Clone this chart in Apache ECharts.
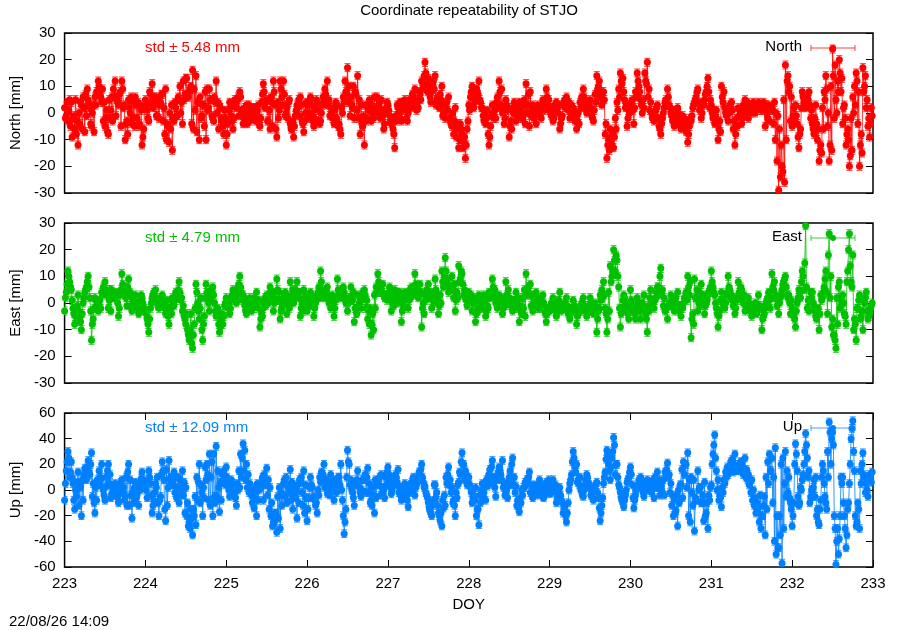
<!DOCTYPE html>
<html>
<head>
<meta charset="utf-8">
<script src="https://cdn.jsdelivr.net/npm/echarts@6/dist/echarts.min.js"></script>
<style>
html, body { margin: 0; padding: 0; background: #fff; }
#main { width: 900px; height: 630px; }
</style>
</head>
<body>
<div id="main"></div>
<script>
// epochs: A values at 223 + i/48, B values half a step later (15-min sampling overall)
var T0 = 223, STEP = 1 / 48;

// North residuals [mm], one row per day
var northA = [
  2,-1, -3,5, 4,-2, -6,-8, -12,-4, 3,6, -7,-1, 5,2, -5,3, 6,8, 12,7, 4,-3, -5,1, -8,-2, 6,9, 12,5, 3,8, 12,2, -10,-3, 5,0, -4,4, 6,-2, -5,3, -12,-6,
  5,1, -3,7, 11,3, 6,-1, -2,4, 7,2, 9,-4, -11,-6, -14,-3, 2,-1, 5,0, -4,5, 13,6, 8,10, 16,9, 14,4, -10,-2, 3,-5, -10,1, 9,5, -2,6, 12,4, 3,-2, -5,1,
  -12,-4, 4,-1, -6,5, 2,6, 8,1, -4,2, 3,-1, -3,1, 2,-2, 0,3, -5,4, 11,2, 5,-3, -6,4, 12,3, -9,-2, 12,6, 12,-1, 2,4, -4,-6, -9,-1, 3,5, 6,-3, -7,0,
  3,-2, 6,0, -5,2, 4,-3, -3,3, 5,7, 12,5, 2,-2, -4,4, 3,-4, -8,0, 4,8, 17,10, 6,2, -2,7, 14,5, 3,-5, -12,-3, 2,5, -3,2, 6,1, 0,4, 5,-1, -4,2,
  3,-1, -4,-6, -13,-3, 2,4, -3,1, 5,-2, 0,3, 4,6, 9,1, 2,7, 12,10, 19,11, 13,6, 8,12, 14,5, 3,7, 10,0, -2,4, 6,-3, -5,-8, 2,-6, -13,-4, -8,-11, -17,-6,
  3,6, 10,2, 5,8, 12,4, 2,-3, -4,1, -12,-5, 3,-2, -2,6, 12,3, 0,-4, 5,1, -9,-3, 2,4, -3,0, 4,-2, -2,5, 11,3, -5,-1, 3,0, -4,3, 2,-2, 5,1, 9,3,
  2,-1, -3,3, 4,0, -6,-2, 3,5, 6,1, -2,3, 2,-3, -6,0, 4,6, 9,2, 0,4, 5,-1, -3,7, 14,10, 6,3, 8,-8, -17,-10, -6,-12, -13,-2, 4,9, 15,11, 8,2, -5,1,
  2,5, -4,8, 15,10, 5,0, 2,12, 19,9, 4,-2, -3,1, 3,-5, -8,-2, 2,5, 9,3, 0,-3, -5,1, 2,-4, -6,-1, -2,-7, -11,-5, -3,2, 4,6, 9,1, -2,4, 5,8, 13,2,
  3,-2, -4,1, -10,-3, 10,4, 2,-1, -3,3, 4,-6, -12,-2, 2,1, -4,3, 5,0, -2,2, 3,4, 0,3, 4,2, 1,4, -5,0, 3,2, 2,-4, -10,-18, -29,-24, -20,5, 18,12, 8,-3,
  -5,2, 3,-4, -13,-6, 8,4, 2,6, 8,-2, -4,-8, 3,-10, -18,-12, 2,8, 14,-5, -18,10, 24,-2, 5,12, 20,8, -4,3, -12,-6, -20,-2, 6,10, 15,-4, -20,-8, 17,10, 2,-5, -9,2
];
var northB = [
  -2,4,1,-5,-9,-1,5,-3,0,4,-6,2,7,9,3,-4,0,-7,3,8,10,6,9,4,-2,-7,5,1,-3,6,-1,4,7,-5,9,3,-4,-8,2,6,-2,-5,3,4,-4,1,-9,2,
  3,-2,8,4,2,6,-1,5,3,7,-3,-8,-10,-5,0,3,-2,4,-1,6,10,4,12,7,13,6,9,-4,-6,1,-7,4,6,-1,3,8,9,2,5,-1,-3,4,0,-6,2,-3,-8,-2,
  -8,1,2,-3,-2,3,5,-1,6,0,-2,1,-4,3,0,-1,2,-3,1,-4,-2,7,8,4,-3,1,6,-5,8,-6,4,1,9,3,7,0,-2,5,-6,-3,-5,1,2,-1,3,-4,-3,4,
  0,4,3,-3,-2,5,1,-4,0,6,9,3,4,-1,0,2,1,-2,-5,-6,2,6,12,7,4,-1,3,10,8,1,-2,-8,-4,-1,3,-2,1,4,0,-2,2,6,3,-2,1,-6,0,4,
  1,-3,-2,-8,-1,3,0,-2,4,2,2,-3,5,2,7,3,5,4,8,5,9,14,15,8,10,4,11,9,3,6,2,5,-1,3,4,1,-2,-4,0,-3,-9,-4,-10,-6,-13,-9,-12,-3,
  1,8,6,4,9,7,5,2,-1,0,-2,-8,-9,-1,0,1,4,2,8,9,2,-2,3,2,-5,-6,0,2,-1,1,2,0,3,-4,0,7,8,1,-2,-1,1,0,-1,3,4,2,6,5,
  0,1,-2,1,2,3,-4,-1,4,2,3,4,1,0,1,-1,-3,-4,2,5,6,4,1,3,2,-2,1,4,9,12,8,5,5,-4,-12,-14,-9,-8,-9,-6,1,6,12,13,5,3,-2,0,
  4,1,2,6,12,8,3,5,15,11,6,1,0,-1,-1,2,-2,-6,-4,0,4,3,6,2,-1,1,-4,-2,0,-2,-3,-3,-5,-4,-8,-2,-1,3,5,8,4,2,0,3,7,10,8,5,
  0,1,-1,-3,-6,-7,6,8,0,1,0,2,1,-3,-8,-5,-1,0,-2,2,2,4,1,0,1,2,3,2,2,1,2,3,3,-2,-3,1,1,4,0,-1,-6,-12,-22,-26,-10,14,10,6,
  -1,-3,-1,-9,-8,2,6,5,4,5,3,1,-6,-2,-4,-6,-14,-15,-6,5,9,0,-12,-14,14,18,0,8,15,13,2,-2,-8,-10,-16,-14,0,3,12,8,-12,-15,8,14,5,-2,-4,-1
];

// East residuals [mm]
var eastA = [
  -3,4, 12,8, 5,-2, -8,-3, 3,-6, -10,0, 4,6, 10,2, -14,-6, 2,-2, -3,1, 4,6, 8,3, -2,5, 5,2, 2,4, -5,3, 11,6, 3,-1, 9,4, -3,0, 3,-2, -4,1, 2,-3,
  -3,-6, -11,-2, 2,4, 5,0, -2,2, 3,-1, -4,1, -8,-3, 2,-1, 4,2, 8,1, -3,-5, -8,-10, -14,-4, -17,-8, 7,0, -6,2, -14,-5, 7,3, -3,5, 6,0, -5,-2, -11,-6, -8,-1,
  2,-2, -4,1, 5,3, 0,6, 10,4, 3,-1, -4,0, 2,-3, -2,1, 4,-2, -9,-4, -2,2, 3,0, 6,2, -3,4, 9,1, -6,-2, 2,4, -4,-1, 8,3, 0,5, 8,2, -5,0, 5,1,
  -3,1, 4,-1, -5,0, 3,6, 12,5, 2,3, 6,0, -2,3, -5,1, 9,4, 2,5, 4,0, -3,2, 6,1, -7,-2, 3,0, -2,4, 5,-2, -6,-8, -12,-4, 3,6, 11,4, 5,7, 2,3,
  3,6, -3,2, 5,3, 0,4, -7,1, 4,2, -2,5, 6,3, 11,4, 2,7, -9,0, 3,5, 7,2, -2,4, 9,1, -4,3, 12,6, 17,8, 4,6, 10,2, -3,4, 14,9, 11,3, 2,-1,
  4,1, -3,2, -7,-1, 3,0, -2,3, -5,-1, 4,2, 9,3, 0,-2, 3,1, -4,0, 8,2, 2,-1, -3,1, 4,-2, -7,-3, 2,5, 11,4, 3,-1, -3,0, 4,-2, -2,1, 3,-3, -7,-2,
  -3,0, 2,-2, -5,-1, 4,-3, -2,0, 2,-4, -6,-2, 1,-1, -8,-4, -3,0, 2,-3, -5,-1, 2,-2, -4,0, -11,-3, 3,5, 8,-2, -11,4, 14,10, 20,12, 16,6, -9,-2, 3,0, -3,-6,
  5,-1, -3,-6, 2,-2, -6,0, 3,-4, -11,-3, 5,1, -2,2, 6,3, 13,5, 2,-2, -6,0, 3,-1, -3,2, 4,-1, -5,-2, 2,4, 10,3, -13,-4, 9,2, -3,4, 7,1, -4,0, 3,5,
  12,6, 3,-2, -9,-3, 4,0, -2,3, 10,5, 3,-1, -4,2, 8,4, 5,0, -3,-1, 2,-3, -5,-2, 0,-4, 3,-1, -10,-5, -2,1, 4,-2, 11,5, 2,-1, -4,2, 5,8, 10,3, 3,-4,
  -2,-5, -9,0, 5,2, 12,5, 29,-2, -3,4, 4,-1, -5,-3, -10,3, 2,6, 12,-4, 26,10, -6,-12, -17,-8, 8,2, 3,-4, -8,12, 26,8, 18,-6, -14,-2, 3,-5, -10,0, 4,-6, -4,-1
];
var eastB = [
  2,7,10,6,1,-4,-5,-1,-3,-7,-4,2,5,8,6,-3,-8,-2,1,0,-1,-2,3,4,5,4,1,-3,4,2,3,0,-2,5,7,4,2,6,3,-1,1,-1,0,-2,-1,3,0,-2,
  -4,-8,-6,0,3,2,2,-1,0,1,1,-2,-1,-5,-2,-4,0,1,3,5,4,2,-1,-6,-4,-12,-10,-15,-12,-2,4,-3,-2,-10,-8,2,4,0,1,4,3,-3,-3,-8,-9,-4,-5,0,
  0,0,-2,3,4,2,3,7,6,1,2,-3,-2,1,0,-1,2,-1,0,1,-6,-5,0,-1,1,3,4,3,0,1,5,4,-3,-1,0,3,1,-2,2,5,2,3,4,4,-2,-3,2,3,
  -1,2,1,2,-2,1,4,2,8,4,3,4,2,1,1,0,-2,2,5,3,4,6,2,1,0,2,1,4,-2,-4,-1,2,1,3,3,1,-3,-2,-8,-10,-2,4,8,6,4,3,2,1,
  4,2,0,-1,4,4,1,2,-3,-1,3,3,1,2,4,5,7,5,3,4,-2,-4,1,4,4,3,1,0,5,3,-1,0,8,10,12,9,6,5,6,7,1,2,8,12,7,5,1,3,
  2,3,0,1,-4,-3,1,2,0,1,-3,-2,3,3,6,5,1,0,1,2,-2,-1,3,5,1,0,-2,1,0,2,-1,-4,-2,-5,3,6,7,3,0,-1,1,2,0,-1,0,-4,-4,-2,
  -2,-1,0,-3,-3,1,-1,-2,-2,-1,-1,-3,-4,-3,-1,-2,-5,-3,-2,0,-1,-2,-2,-3,0,-3,-2,-3,-6,-2,1,2,3,-4,-6,-3,8,12,16,18,10,-2,-4,1,2,-2,-4,-1,
  1,-2,-4,-1,0,-3,-2,-1,-2,-6,-1,2,-1,0,1,4,6,10,4,-1,-3,-2,-1,0,-1,1,0,-2,-3,-1,-1,0,2,1,6,8,-6,-8,2,5,0,-1,2,3,-1,1,4,6,
  8,4,0,-4,-5,1,1,-1,0,4,6,2,1,2,-2,1,4,6,2,3,-1,-2,0,-1,-2,-3,-1,-1,-2,-2,-6,-4,0,2,1,2,6,8,3,1,0,3,7,9,6,2,0,1,
  -4,-6,-3,2,4,8,10,15,6,1,1,2,0,-3,-6,-2,-4,1,4,9,4,18,2,-9,-12,-14,2,6,-2,0,0,-5,8,20,14,6,-10,-8,-2,1,-6,-3,1,2,-3,-5,-2,0
];

// Up residuals [mm]
var upA = [
  -8,15, 30,10, 22,5, -15,-5, 14,2, -20,-8, 17,8, 23,12, 29,5, -18,-8, 5,10, 20,0, -8,3, 20,12, -3,4, 5,-4, -10,-2, 8,2, -5,-12, 20,8, -22,-10, 6,-4, -12,0, 14,5,
  3,-6, 15,5, -18,-8, 5,10, -20,-5, 22,8, -24,-12, 23,10, 4,14, 10,2, -10,-4, 15,6, 2,-10, -25,-15, -35,-20, -27,-8, 20,4, -20,-6, 8,12, 28,10, -20,-5, 34,15, -17,-8, 6,10,
  18,6, -5,8, 5,-2, -12,0, 2,10, 36,31, 20,12, 5,-4, -5,2, -20,-8, 3,6, -8,4, 17,8, 2,-10, -25,-18, -33,-22, -30,-12, 5,-5, -10,3, 16,6, 2,-6, -22,-10, 6,-2, 15,4,
  -24,-6, 10,2, -5,-12, -18,-4, 6,12, 20,8, -3,5, 12,0, -8,4, 5,10, 20,-8, -34,-15, 31,20, 8,-2, -12,6, 15,2, -5,8, 10,-2, 17,5, -8,2, -18,-6, 4,10, 12,-2, -6,4,
  18,8, -3,5, 4,10, 16,2, -8,0, 5,-4, -13,-2, 6,10, -4,4, 8,12, 20,6, 3,-4, -10,-16, -20,-8, 4,-2, -18,-24, -28,-14, -12,5, 18,8, 2,-8, -20,-6, 6,12, 29,20, 15,4,
  10,2, -10,-4, 2,-15, -27,-10, 5,-2, -8,3, 12,6, 23,10, -5,8, 18,12, 23,5, -2,-6, 10,4, 25,10, 3,-8, -17,-10, -4,2, 5,8, 14,4, -6,2, 3,-4, 8,2, -5,0, 6,-2,
  -3,4, 8,0, -10,-4, 2,-8, -18,-12, -25,-10, 5,12, 30,18, 20,8, 10,2, -5,4, 12,6, 3,-2, -8,0, 6,-6, -24,-12, 5,14, 31,20, 8,25, 41,12, 20,4, -2,-8, -13,-4, 6,10,
  18,4, -14,-4, 3,8, 10,2, -5,4, 8,0, 2,6, -6,2, 14,8, 3,-2, -4,10, 21,12, 5,-4, -8,-16, -28,-10, 4,-6, 12,20, 29,8, 10,-12, -32,-8, 15,2, -10,-4, 6,-18, -30,-8,
  4,28, 43,15, 8,-4, -13,-2, 5,10, 12,16, 20,14, 28,18, 15,20, 22,12, 25,16, 12,6, 8,0, -6,-10, -14,-4, -20,-12, -35,-15, 5,15, 25,10, 33,-20, -45,-35, -57,-30, 30,15, 10,-10,
  -28,-10, 36,15, -12,2, 8,20, 44,25, 15,-5, -5,8, 10,-15, -27,-8, 20,5, -10,30, 53,20, 45,-20, -58,-30, -38,10, 10,-20, -45,-15, 5,40, 54,15, -28,-10, -30,5, 29,10, 5,-5, 12,6
];
var upB = [
  5,22,25,14,10,-8,0,6,-12,3,8,12,15,18,14,20,-5,-10,2,8,15,8,2,-4,10,15,5,-6,2,0,-2,-6,4,6,-2,-8,10,14,-12,-4,-2,2,-6,2,5,9,8,2,
  0,8,10,-4,-12,-2,2,-10,-8,12,15,-15,16,2,8,6,4,-2,-6,10,8,2,-4,-18,-20,-28,-30,-22,-15,-5,10,6,-10,-2,2,18,20,-8,-12,22,28,-10,-5,2,6,12,15,4,
  10,0,2,4,-4,-6,5,15,28,25,15,8,2,-2,0,-10,-14,-2,5,0,2,10,12,4,-4,-15,-20,-28,-25,-18,-5,2,-2,-4,8,10,4,-2,-8,-15,-4,0,4,8,10,-12,-18,-6,
  -15,2,4,-6,-8,-10,0,10,14,12,2,8,4,-4,0,6,8,-2,10,4,0,-20,-25,10,22,4,0,-6,4,8,6,-2,0,8,12,10,-2,-10,-12,-4,8,6,4,-4,2,0,10,14,
  12,2,0,10,12,6,-2,-4,2,0,-6,-8,2,4,0,6,2,10,14,16,10,2,-2,-6,-14,-18,-12,4,-6,-12,-20,-18,-8,-4,10,12,4,-2,-10,-12,-2,4,14,22,20,8,12,6,
  4,-2,-6,-8,-20,-15,-4,0,-5,4,8,10,16,18,4,2,10,14,15,8,2,-4,0,6,15,20,4,-2,-12,-14,-6,0,2,6,8,10,-2,-4,0,4,-2,2,4,-2,-6,0,2,8,
  0,-2,2,4,-6,-2,-4,-10,-14,-20,-18,0,8,22,25,14,6,4,0,-4,0,8,10,2,-4,-6,2,4,-2,-14,-18,-6,10,24,28,15,18,30,35,20,10,2,-6,-10,-8,0,8,14,
  12,-6,-8,0,4,6,8,-2,0,6,4,0,-2,8,10,6,2,-4,-2,8,14,16,10,-2,-12,-20,-18,-4,0,4,16,22,20,2,-20,-25,-2,8,-6,-8,0,2,-10,-24,-20,-10,-4,2,
  20,35,25,0,-8,-6,2,8,14,18,16,22,24,20,18,15,20,22,18,14,10,8,4,-2,-8,-12,-18,-15,-25,-30,-20,-5,10,22,28,15,-10,-40,-50,-45,-20,20,25,5,-5,-2,-6,-15,
  -20,20,28,-5,-10,0,12,30,35,10,-10,0,2,-5,-20,-25,-15,10,15,-5,-15,10,45,40,35,-30,-40,-50,-20,5,-10,-30,-35,-10,20,48,30,-20,-25,-15,15,20,12,-2,0,8,10,14
];

// formal error used for the error bars [mm]
var sigma = [1.5, 1.5, 3];

var components = ['North', 'East', 'Up'];
var stds = ['5.48', '4.79', '12.09'];
var xTicks = [223, 233, 1];

function merge(a, b) {
  var out = [];
  for (var i = 0; i < a.length; i++) {
    out.push([T0 + i * STEP, a[i]]);
    out.push([T0 + (i + 0.5) * STEP, b[i]]);
  }
  return out;
}

window.onload = function () {
  var chart = echarts.init(document.getElementById('main'));
  var font = '"Liberation Sans", Arial, sans-serif';
  var fs = 15;

  var panels = [
    { data: merge(northA, northB), color: '#ff0000', min: -30, max: 30, step: 10, top: 33, h: 160 },
    { data: merge(eastA, eastB), color: '#00c000', min: -30, max: 30, step: 10, top: 223, h: 160 },
    { data: merge(upA, upB), color: '#0080ff', min: -60, max: 60, step: 20, top: 413, h: 154 }
  ];

  var grids = [], xAxes = [], yAxes = [], series = [], graphic = [];
  var tick = { show: true, inside: true, length: 7, lineStyle: { color: '#000', width: 1 } };

  panels.forEach(function (p, k) {
    var last = (k === 2);
    var xi = last ? 2 : k;
    grids.push({ left: 64, width: 809, top: p.top, height: p.h, show: true,
      borderColor: '#000', borderWidth: 1.5, backgroundColor: 'transparent' });

    xAxes.push({
      type: 'value', gridIndex: k, position: 'bottom', min: xTicks[0], max: xTicks[1], interval: xTicks[2],
      axisLine: { show: false, onZero: false }, splitLine: { show: false },
      axisTick: { show: last, inside: true, length: 7, lineStyle: { color: '#000', width: 1 } },
      axisLabel: { show: last, color: '#000', fontSize: fs, fontFamily: font, margin: 9 },
      name: last ? 'DOY' : '', nameLocation: 'middle', nameGap: 30,
      nameTextStyle: { color: '#000', fontSize: fs, fontFamily: font }
    });
    if (last) {
      xAxes.push({
        type: 'value', gridIndex: k, position: 'top', min: xTicks[0], max: xTicks[1], interval: xTicks[2],
        axisLine: { show: false, onZero: false }, splitLine: { show: false }, axisLabel: { show: false },
        axisTick: tick
      });
    }

    yAxes.push({
      type: 'value', gridIndex: k, position: 'left', min: p.min, max: p.max, interval: p.step,
      axisLine: { show: false, onZero: false }, splitLine: { show: false },
      axisTick: tick,
      axisLabel: { color: '#000', fontSize: fs, fontFamily: font, margin: 9 },
      name: components[k] + ' [mm]', nameLocation: 'middle', nameGap: 40, nameRotate: 90,
      nameTextStyle: { color: '#000', fontSize: fs, fontFamily: font }
    });
    yAxes.push({
      type: 'value', gridIndex: k, position: 'right', min: p.min, max: p.max, interval: p.step,
      axisLine: { show: false, onZero: false }, splitLine: { show: false }, axisLabel: { show: false },
      axisTick: tick
    });

    // error bars with caps
    series.push({
      type: 'custom', xAxisIndex: xi, yAxisIndex: k * 2, data: p.data, silent: true, z: 1,
      clip: true,
      renderItem: function (params, api) {
        var x = api.value(0), y = api.value(1), e = sigma[k];
        var lo = api.coord([x, y - e]), hi = api.coord([x, y + e]);
        var st = { stroke: p.color, lineWidth: 1, opacity: 0.8 };
        return { type: 'group', children: [
          { type: 'line', shape: { x1: lo[0], y1: lo[1], x2: hi[0], y2: hi[1] }, style: st },
          { type: 'line', shape: { x1: lo[0] - 3, y1: lo[1], x2: lo[0] + 3, y2: lo[1] }, style: st },
          { type: 'line', shape: { x1: hi[0] - 3, y1: hi[1], x2: hi[0] + 3, y2: hi[1] }, style: st }
        ] };
      },
      animation: false
    });

    series.push({
      type: 'line', name: components[k],
      xAxisIndex: xi, yAxisIndex: k * 2, z: 2,
      data: p.data,
      symbol: 'circle', symbolSize: 7, showSymbol: true, showAllSymbol: true,
      itemStyle: { color: p.color },
      lineStyle: { color: p.color, width: 1, opacity: 0.8 },
      animation: false, silent: true
    });

    // std label
    graphic.push({
      type: 'text', left: 145, top: p.top + 7,
      style: { text: 'std \u00b1 ' + stds[k] + ' mm', fill: p.color, fontSize: fs, fontFamily: font }
    });
    // legend entry (error bar key)
    var ly = p.top + 15;
    graphic.push({
      type: 'text', right: 900 - 802, top: ly - 9,
      style: { text: components[k], fill: '#000', fontSize: fs, fontFamily: font, textAlign: 'right' }
    });
    graphic.push({ type: 'line', shape: { x1: 811, y1: ly, x2: 855, y2: ly },
      style: { stroke: p.color, lineWidth: 1, opacity: 0.75 } });
    graphic.push({ type: 'line', shape: { x1: 811, y1: ly - 3, x2: 811, y2: ly + 3 },
      style: { stroke: p.color, lineWidth: 1, opacity: 0.75 } });
    graphic.push({ type: 'line', shape: { x1: 855, y1: ly - 3, x2: 855, y2: ly + 3 },
      style: { stroke: p.color, lineWidth: 1, opacity: 0.75 } });
    graphic.push({ type: 'circle', shape: { cx: 833, cy: ly, r: 3 }, style: { fill: p.color } });
  });

  graphic.push({
    type: 'text', left: 9, top: 614,
    style: { text: '22/08/26 14:09', fill: '#000', fontSize: fs, fontFamily: font }
  });

  var option = {
    backgroundColor: '#fff',
    animation: false,
    title: {
      text: 'Coordinate repeatability of STJO', left: 469, top: 3, textAlign: 'center', padding: 0,
      textStyle: { color: '#000', fontSize: fs, fontWeight: 'normal', fontFamily: font }
    },
    grid: grids,
    xAxis: xAxes,
    yAxis: yAxes,
    series: series,
    graphic: graphic
  };
  chart.setOption(option);
};
</script>
</body>
</html>
